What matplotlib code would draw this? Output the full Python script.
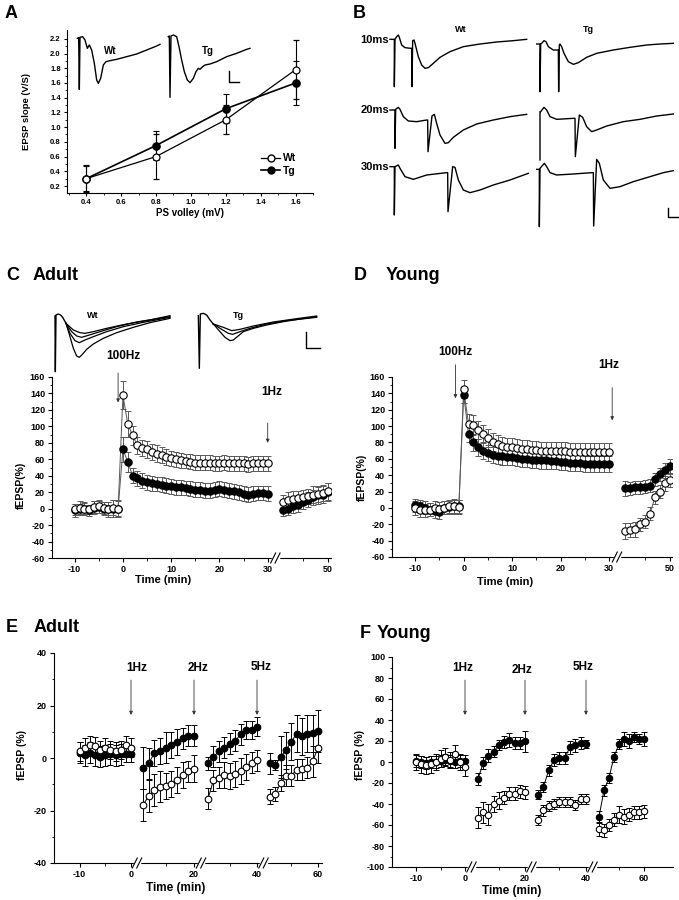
import numpy as np
import matplotlib as mpl
mpl.use('Agg')
import matplotlib.pyplot as plt
from matplotlib.lines import Line2D
from matplotlib.ticker import FixedLocator, FixedFormatter

plt.rcParams['font.family'] = ['Liberation Sans', 'DejaVu Sans']
plt.rcParams['font.weight'] = 'bold'
plt.rcParams['axes.unicode_minus'] = False
plt.rcParams['axes.linewidth'] = 0.8

# ---------------- data ----------------
# A: input/output
a_volley = [0.4, 0.8, 1.2, 1.6]
a_wt = [0.30, 0.60, 1.10, 1.78]
a_wt_err = [0.18, 0.30, 0.20, 0.40]
a_tg = [0.30, 0.75, 1.25, 1.60]
a_tg_err = [0.17, 0.20, 0.20, 0.30]

# C: adult LTP / depotentiation
base_t = [-10, -9, -8, -7, -6, -5, -4, -3, -2, -1]
post_t = list(range(0, 31))
late_t = [32, 34, 36, 38, 40, 42, 44, 46, 48, 50]

c_wt_base = [-1, 1, 0, -1, 2, 3, 1, 0, 1, 0]
c_wt_base_err = [7, 8, 7, 6, 7, 8, 7, 8, 9, 9]
c_tg_base = [-2, -1, 0, -2, 1, 2, 0, -1, 0, 0]
c_tg_base_err = [8, 7, 8, 7, 8, 7, 8, 9, 10, 10]
c_wt_post = [138, 103, 89, 77, 74, 72, 69, 67, 65, 63, 61, 60, 59, 58, 57, 56, 56, 56,
             56, 55, 55, 56, 55, 55, 55, 55, 54, 55, 55, 55, 55]
c_wt_post_err = [17, 16, 12, 10, 10, 10, 10, 10, 10, 10, 9, 9, 9, 9, 9, 9, 9, 9,
                 9, 9, 9, 9, 9, 9, 9, 9, 9, 9, 9, 9, 9]
c_tg_post = [72, 57, 40, 37, 34, 32, 31, 30, 29, 28, 27, 26, 26, 25, 24, 23, 23, 22,
             22, 23, 24, 23, 22, 21, 20, 18, 17, 18, 19, 19, 18]
c_tg_post_err = [15, 12, 9, 9, 9, 9, 9, 9, 9, 9, 9, 9, 9, 9, 9, 9, 9, 9,
                 9, 9, 9, 9, 9, 9, 9, 9, 9, 9, 9, 9, 9]
c_wt_late = [8, 11, 12, 13, 14, 15, 17, 18, 19, 21]
c_wt_late_err = [8, 9, 9, 9, 9, 9, 10, 10, 10, 10]
c_tg_late = [-2, 0, 3, 5, 8, 11, 14, 16, 17, 20]
c_tg_late_err = [7, 8, 8, 9, 9, 9, 9, 10, 10, 11]

# D: young LTP / depotentiation
d_wt_base = [0, -2, -3, -2, 0, -1, 0, 2, 2, 1]
d_wt_base_err = [9, 9, 8, 8, 8, 8, 8, 8, 9, 9]
d_tg_base = [3, 2, 0, -2, -4, -5, 0, 1, 2, 2]
d_tg_base_err = [8, 8, 8, 8, 8, 8, 8, 8, 8, 8]
d_wt_post = [145, 103, 101, 95, 90, 85, 80, 78, 76, 75, 74, 73, 72, 72, 71, 71, 70, 70,
             70, 69, 69, 69, 68, 68, 68, 68, 68, 68, 68, 68, 68]
d_wt_post_err = [11, 12, 12, 11, 11, 11, 11, 11, 11, 11, 11, 11, 11, 11, 11, 11, 11, 11,
                 11, 11, 11, 11, 11, 11, 11, 11, 11, 11, 11, 11, 11]
d_tg_post = [138, 90, 80, 74, 70, 67, 65, 64, 63, 62, 62, 61, 60, 60, 59, 59, 58, 58,
             57, 57, 56, 56, 55, 55, 55, 54, 54, 54, 54, 54, 54]
d_tg_post_err = [10, 10, 10, 10, 10, 10, 10, 10, 10, 10, 10, 10, 10, 10, 10, 10, 10, 10,
                 10, 10, 10, 10, 10, 10, 10, 10, 10, 10, 10, 10, 10]
d_wt_late = [-28, -27, -26, -20, -17, -7, 13, 20, 30, 34]
d_wt_late_err = [10, 9, 9, 8, 8, 8, 8, 8, 9, 9]
d_tg_late = [24, 24, 25, 25, 26, 27, 35, 41, 46, 51]
d_tg_late_err = [9, 8, 8, 8, 8, 8, 8, 8, 9, 9]

# E/F: low-frequency stimulation
lfs_base_t = [-10, -9, -8, -7, -6, -5, -4, -3, -2, -1, 0]
seg1_t = [2, 4, 6, 8, 10, 12, 14, 16, 18, 20]
seg2_t = [22, 24, 26, 28, 30, 32, 34, 36, 38, 40]
seg3_t = [42, 44, 46, 48, 50, 52, 54, 56, 58, 60]

e_wt_base = [2.5, 4, 5, 4.5, 3, 4, 3, 2.5, 3, 5, 4]
e_wt_base_err = [3.5, 3.5, 3.5, 3.5, 3.5, 3.5, 3.5, 3.5, 3.5, 3.5, 3.5]
e_tg_base = [2, 1, 2, 1, 0.5, 1, 1.5, 1, 1.5, 1.5, 1.5]
e_tg_base_err = [4, 4, 4, 4, 4, 4, 4, 4, 4, 3, 3]
e_tg_seg1 = [-3.7, -2, 1.8, 2.7, 4, 5, 6.2, 7.5, 8.5, 8.5]
e_tg_seg1_err = [8, 6, 5, 5, 6, 5, 5, 4, 4, 4]
e_wt_seg1 = [-17.9, -14.5, -12.2, -10.9, -10.7, -10, -8.4, -6.5, -5, -4]
e_wt_seg1_err = [6, 6, 6, 6, 5, 5, 5, 5, 4, 5]
e_tg_seg2 = [-2, 0.5, 2.5, 4, 5.5, 6.5, 9, 10.7, 10.7, 12]
e_tg_seg2_err = [2.5, 4, 4, 4, 4, 4, 4, 3.5, 3.5, 3.5]
e_wt_seg2 = [-15.5, -8.5, -7.5, -6.5, -6.8, -6.2, -5, -3.5, -1.8, -0.8]
e_wt_seg2_err = [4, 4, 4, 5, 5, 5, 5, 5, 4, 4]
e_tg_seg3 = [-2, -2.7, 0.5, 3, 6.2, 9.3, 8.2, 9.2, 9.4, 10.3]
e_tg_seg3_err = [4, 2, 8, 7, 7, 7, 7, 7, 7, 8]
e_wt_seg3 = [-14.7, -13.7, -9.5, -6.7, -6.7, -4.5, -4.2, -3.8, -1.3, 4]
e_wt_seg3_err = [3, 2.5, 3, 4, 4, 4, 4, 4, 6, 6]

f_wt_base = [0, -2, -3, -2, 0, 3, 5, 2, 8, 0, -5]
f_wt_base_err = [8, 8, 8, 8, 8, 8, 8, 8, 8, 8, 8]
f_tg_base = [1, 0, -1, 0, 0, 1, 2, 1, 0, 1, 1]
f_tg_base_err = [6, 6, 6, 6, 6, 6, 6, 6, 6, 6, 6]
f_tg_seg1 = [-16, -1, 6, 10, 16, 19, 21, 18, 18, 20]
f_tg_seg1_err = [6, 6, 6, 5, 5, 6, 7, 6, 6, 10]
f_wt_seg1 = [-53, -48, -50, -40, -37, -34, -30, -30, -28, -29]
f_wt_seg1_err = [10, 10, 10, 8, 8, 6, 6, 6, 6, 6]
f_tg_seg2 = [-31, -24, -8, 2, 4, 4, 14, 16, 18, 17]
f_tg_seg2_err = [4, 5, 5, 6, 6, 6, 6, 6, 6, 4]
f_wt_seg2 = [-55, -46, -42, -40, -38, -38, -38, -41, -35, -35]
f_wt_seg2_err = [5, 5, 5, 5, 5, 5, 5, 5, 5, 5]
f_tg_seg3 = [-52, -27, -15, 5, 17, 22, 20, 24, 22, 22]
f_tg_seg3_err = [5, 5, 5, 5, 5, 7, 7, 5, 5, 7]
f_wt_seg3 = [-64, -65, -60, -55, -50, -52, -50, -48, -48, -47]
f_wt_seg3_err = [6, 6, 6, 6, 8, 7, 6, 6, 6, 6]

# example recordings (sample, level)
a_trace_wt_x = [232, 236, 238, 240, 248, 255, 262, 268, 275, 283, 290, 295, 302, 310, 318,
                330, 350, 380, 410, 440, 470, 480]
a_trace_wt_y = [115, 113, 268, 112, 110, 120, 145, 135, 150, 190, 240, 250, 235, 195, 185,
                182, 178, 170, 162, 150, 138, 133]
a_trace_tg_x = [505, 508, 510, 513, 520, 530, 537, 545, 553, 562, 570, 580, 588, 595, 600,
                608, 615, 630, 650, 680, 710, 740, 750]
a_trace_tg_y = [110, 108, 292, 108, 105, 110, 140, 180, 215, 240, 248, 235, 215, 205, 208,
                200, 195, 192, 185, 170, 160, 148, 145]
a_scale_x = [686, 686, 718]
a_scale_y = [213, 247, 247]

b_wt10_x = [150, 163, 163, 165, 170, 175, 178, 185, 195, 212, 215, 216, 218, 222, 225, 235,
            245, 255, 265, 280, 300, 330, 370, 420, 470, 520, 560]
b_wt10_y = [58, 58, 200, 58, 50, 45, 52, 75, 83, 85, 85, 200, 62, 60, 70, 110, 135, 145,
            143, 130, 112, 95, 80, 72, 66, 62, 58]
b_tg10_x = [590, 600, 600, 602, 605, 612, 618, 625, 640, 652, 655, 656, 658, 660, 665, 672,
            685, 700, 715, 740, 770, 820, 870, 920, 960, 1000]
b_tg10_y = [72, 72, 215, 72, 70, 62, 65, 80, 90, 90, 90, 215, 75, 72, 80, 100, 125, 133,
            128, 112, 100, 90, 82, 75, 72, 70]
b_wt20_x = [150, 165, 165, 167, 175, 180, 190, 205, 230, 260, 263, 264, 276, 283, 290, 300,
            315, 325, 340, 370, 410, 460, 510, 560]
b_wt20_y = [270, 270, 385, 268, 262, 268, 290, 303, 305, 300, 300, 395, 288, 283, 310, 345,
            370, 368, 352, 330, 312, 300, 290, 283]
b_tg20_x = [600, 600, 602, 612, 620, 630, 650, 700, 705, 706, 718, 728, 740, 755, 770, 800,
            850, 900, 950, 1000]
b_tg20_y = [420, 275, 275, 262, 270, 290, 298, 295, 295, 410, 285, 292, 320, 335, 330, 318,
            305, 298, 288, 282]
b_wt30_x = [150, 163, 163, 165, 175, 180, 195, 220, 260, 320, 323, 324, 338, 345, 355, 370,
            390, 420, 460, 510, 565]
b_wt30_y = [440, 440, 585, 440, 435, 445, 470, 478, 465, 458, 458, 575, 440, 442, 480, 510,
            518, 510, 495, 480, 460]
b_tg30_x = [590, 598, 598, 600, 613, 620, 630, 650, 700, 755, 760, 761, 770, 778, 790, 810,
            840, 880, 930, 970, 1000]
b_tg30_y = [448, 448, 620, 445, 430, 440, 458, 465, 462, 458, 458, 618, 418, 430, 480, 505,
            500, 485, 470, 458, 452]
b_scale_x = [985, 985, 1015]
b_scale_y = [565, 592, 592]

c_start_wt_x = [45, 46, 48, 55, 62, 68, 78]
c_start_wt_y = [48, 215, 45, 42, 45, 52, 70]
c_traces_wt = [
    ([78, 90, 100, 110, 118, 128, 140, 160, 190, 230, 280, 330, 390],
     [70, 110, 145, 168, 172, 162, 148, 132, 115, 98, 82, 68, 55]),
    ([78, 90, 105, 118, 135, 160, 200, 250, 310, 390],
     [70, 100, 122, 128, 120, 110, 95, 80, 67, 52]),
    ([78, 95, 110, 125, 145, 180, 230, 290, 390],
     [70, 95, 108, 112, 106, 95, 80, 66, 50]),
    ([78, 100, 120, 135, 160, 200, 260, 330, 390],
     [70, 90, 98, 100, 95, 85, 72, 60, 47]),
]
c_start_tg_x = [475, 478, 481, 490, 500, 510, 520]
c_start_tg_y = [47, 205, 42, 40, 45, 60, 72]
c_traces_tg = [
    ([520, 540, 555, 570, 580, 592, 610, 640, 680, 730, 780, 830],
     [72, 95, 112, 122, 120, 110, 95, 85, 75, 65, 57, 50]),
    ([520, 545, 565, 578, 600, 630, 680, 740, 830],
     [72, 88, 100, 103, 95, 85, 72, 62, 52]),
    ([520, 550, 575, 600, 640, 700, 770, 830],
     [72, 82, 92, 88, 78, 66, 56, 48]),
]
c_scale_x = [797, 797, 840]
c_scale_y = [95, 145, 145]

# ---------------- figure ----------------
W, H = 679, 900
fig = plt.figure(figsize=(W / 100, H / 100), dpi=100)


def box(l, t, r, b):
    return [l / W, 1 - b / H, (r - l) / W, (b - t) / H]


def ftext(x, y, s, **kw):
    fig.text(x / W, 1 - y / H, s, **kw)


def series(ax, t, y, e, filled, ecol, lcol, ms):
    ax.errorbar(t, y, yerr=e, fmt='none', ecolor=ecol, elinewidth=0.7,
                capsize=2.2, capthick=0.7, zorder=2)
    ax.plot(t, y, color=lcol, lw=0.7, zorder=3)
    ax.plot(t, y, 'o', ms=ms, mfc='k' if filled else 'w', mec='k', mew=0.8,
            zorder=4 if filled else 5)


def time_panel(rect, kt, kp, ylim, yt, ym, xt, xm, brks):
    l, t, r, b = rect
    ax = fig.add_axes(box(l, t, r, b))
    ax.set_xscale('function', functions=(lambda x: np.interp(x, kt, kp),
                                         lambda p: np.interp(p, kp, kt)))
    ax.set_xlim(kt[0], kt[-1])
    ax.set_ylim(*ylim)
    ax.spines['top'].set_visible(False)
    ax.spines['right'].set_visible(False)
    ax.xaxis.set_major_locator(FixedLocator(xt))
    ax.xaxis.set_major_formatter(FixedFormatter([str(v) for v in xt]))
    ax.xaxis.set_minor_locator(FixedLocator(xm))
    ax.yaxis.set_major_locator(FixedLocator(yt))
    ax.yaxis.set_minor_locator(FixedLocator(ym))
    ax.tick_params(which='major', length=3, width=0.8, labelsize=6.5, pad=2)
    ax.tick_params(which='minor', length=1.8, width=0.6)
    wpx, hpx = r - l, b - t
    for xb in brks:
        fx = (np.interp(xb, kt, kp) - kp[0]) / (kp[-1] - kp[0])
        g, dx, dy = 2.2 / wpx, 2.5 / wpx, 5 / hpx
        ax.plot([fx - g, fx + g], [0, 0], color='w', lw=2.5, transform=ax.transAxes,
                clip_on=False, zorder=6)
        for o in (-g, g):
            ax.plot([fx + o - dx, fx + o + dx], [-dy, dy], color='k', lw=0.8,
                    transform=ax.transAxes, clip_on=False, zorder=7)
    return ax


def arrow(ax, x, y0, y1, label, lx, ly, col='0.2'):
    ax.annotate('', xy=(x, y1), xytext=(x, y0),
                arrowprops=dict(arrowstyle='-|>', lw=0.6, color=col, mutation_scale=5,
                                shrinkA=0, shrinkB=0), annotation_clip=False)
    ax.text(lx, ly, label, ha='center', va='center', fontsize=8.5, clip_on=False)


def overlay(l, t, r, b, xlim, ylim):
    ax = fig.add_axes(box(l, t, r, b))
    ax.set_xlim(*xlim)
    ax.set_ylim(*ylim)
    ax.axis('off')
    ax.patch.set_alpha(0)
    return ax


# ---- A ----
axA = fig.add_axes(box(67, 30, 313, 193))
axA.set_xlim(0.29, 1.70)
axA.set_ylim(0.105, 2.32)
axA.spines['top'].set_visible(False)
axA.spines['right'].set_visible(False)
axA.errorbar(a_volley, a_wt, yerr=a_wt_err, fmt='-o', color='k', lw=0.9, ms=5,
             mfc='w', mec='k', mew=0.9, capsize=2.5, capthick=0.8, elinewidth=0.8, zorder=4)
axA.errorbar(a_volley, a_tg, yerr=a_tg_err, fmt='-o', color='k', lw=1.2, ms=5.2,
             mfc='k', mec='k', capsize=2.5, capthick=0.8, elinewidth=0.8, zorder=3)
axA.set_xticks([0.4, 0.6, 0.8, 1.0, 1.2, 1.4, 1.6])
axA.set_xticks([0.3, 0.5, 0.7, 0.9, 1.1, 1.3, 1.5, 1.7], minor=True)
axA.set_yticks([0.2, 0.4, 0.6, 0.8, 1.0, 1.2, 1.4, 1.6, 1.8, 2.0, 2.2])
axA.set_yticks([0.3, 0.5, 0.7, 0.9, 1.1, 1.3, 1.5, 1.7, 1.9, 2.1], minor=True)
axA.xaxis.set_major_formatter(FixedFormatter(['0.4', '0.6', '0.8', '1.0', '1.2', '1.4', '1.6']))
axA.yaxis.set_major_formatter(FixedFormatter(['0.2', '0.4', '0.6', '0.8', '1.0', '1.2', '1.4',
                                              '1.6', '1.8', '2.0', '2.2']))
axA.tick_params(which='major', length=2.5, width=0.8, labelsize=5.5, pad=2)
axA.tick_params(which='minor', length=1.5, width=0.6)
hA = [Line2D([], [], color='k', lw=0.9, marker='o', ms=5, mfc='w', mec='k'),
      Line2D([], [], color='k', lw=1.2, marker='o', ms=5, mfc='k', mec='k')]
axA.legend(hA, ['Wt', 'Tg'], loc='center left', bbox_to_anchor=(0.79, 0.175),
           frameon=False, fontsize=7.5, handlelength=1.8, handletextpad=0.3,
           labelspacing=0.25, borderpad=0, borderaxespad=0)
ftext(27, 112, 'EPSP slope (V/S)', rotation=90, ha='center', va='center', fontsize=6.8)
ftext(190, 213, 'PS volley (mV)', ha='center', va='center', fontsize=7)

ovA = overlay(0, 0, 340, 310, (0, 1020), (930, 0))
ovA.plot(a_trace_wt_x, a_trace_wt_y, color='k', lw=1.0)
ovA.plot(a_trace_tg_x, a_trace_tg_y, color='k', lw=1.0)
ovA.plot(a_scale_x, a_scale_y, color='k', lw=1.0)
ftext(110, 51, 'Wt', ha='center', va='center', fontsize=7)
ftext(208, 51, 'Tg', ha='center', va='center', fontsize=7)
ftext(5, 14, 'A', ha='left', va='center', fontsize=13)

# ---- B ----
ovB = overlay(340, 20, 679, 250, (0, 1017), (690, 0))
for bx, by in [(b_wt10_x, b_wt10_y), (b_tg10_x, b_tg10_y), (b_wt20_x, b_wt20_y),
               (b_tg20_x, b_tg20_y), (b_wt30_x, b_wt30_y), (b_tg30_x, b_tg30_y),
               (b_scale_x, b_scale_y)]:
    ovB.plot(bx, by, color='k', lw=1.0)
ftext(353, 13, 'B', ha='left', va='center', fontsize=13)
ftext(461, 30, 'Wt', ha='center', va='center', fontsize=6.5)
ftext(588, 30, 'Tg', ha='center', va='center', fontsize=6.5)
for lab, yy in [('10ms', 40), ('20ms', 110), ('30ms', 167)]:
    ftext(389, yy, lab, ha='right', va='center', fontsize=8)

# ---- C ----
axC = time_panel((52, 377, 331, 558), [-14.7, 30, 32, 50, 51.2],
                 [52, 267.7, 283, 328, 331], (-60, 160),
                 list(range(-60, 161, 20)), list(range(-50, 160, 20)),
                 [-10, 0, 10, 20, 30, 50], [-5, 5, 15, 25, 40], [31])
series(axC, base_t + post_t, c_tg_base + c_tg_post, c_tg_base_err + c_tg_post_err,
       True, '0.35', '0.35', 5.3)
series(axC, base_t + post_t, c_wt_base + c_wt_post, c_wt_base_err + c_wt_post_err,
       False, '0.35', '0.35', 5.3)
series(axC, late_t, c_tg_late, c_tg_late_err, True, '0.35', '0.35', 5.3)
series(axC, late_t, c_wt_late, c_wt_late_err, False, '0.35', '0.35', 5.3)
arrow(axC, -1, 165, 129, '100Hz', 0, 186)
arrow(axC, 30, 104, 80, '1Hz', 30.5, 142)
ftext(21, 485, 'fEPSP(%)', rotation=90, ha='center', va='center', fontsize=7.5)
ftext(163, 580, 'Time (min)', ha='center', va='center', fontsize=8)
ftext(6, 276, 'C', ha='left', va='center', fontsize=13)
ftext(33, 276, 'Adult', ha='left', va='center', fontsize=13)

ovC = overlay(40, 300, 340, 380, (0, 900), (240, 0))
ovC.plot(c_start_wt_x, c_start_wt_y, color='k', lw=1.0)
for tx, ty in c_traces_wt:
    ovC.plot(tx, ty, color='k', lw=0.9)
ovC.plot(c_start_tg_x, c_start_tg_y, color='k', lw=1.0)
for tx, ty in c_traces_tg:
    ovC.plot(tx, ty, color='k', lw=0.9)
ovC.plot(c_scale_x, c_scale_y, color='k', lw=1.0)
ftext(93, 315, 'Wt', ha='center', va='center', fontsize=6.5)
ftext(238, 315, 'Tg', ha='center', va='center', fontsize=6.5)

# ---- D ----
axD = time_panel((392, 377, 672, 557), [-14.8, 30, 32, 50, 51],
                 [392, 609, 625, 670, 672], (-60, 160),
                 list(range(-60, 161, 20)), list(range(-50, 160, 20)),
                 [-10, 0, 10, 20, 30, 50], [-5, 5, 15, 25, 40], [31])
series(axD, base_t + post_t, d_tg_base + d_tg_post, d_tg_base_err + d_tg_post_err,
       True, '0.35', '0.35', 5.3)
series(axD, base_t + post_t, d_wt_base + d_wt_post, d_wt_base_err + d_wt_post_err,
       False, '0.35', '0.35', 5.3)
series(axD, late_t, d_tg_late, d_tg_late_err, True, '0.35', '0.35', 5.3)
series(axD, late_t, d_wt_late, d_wt_late_err, False, '0.35', '0.35', 5.3)
arrow(axD, -1.7, 175, 134, '100Hz', -1.7, 191)
arrow(axD, 30.4, 147, 107, '1Hz', 30, 175)
ftext(362, 477, 'fEPSP(%)', rotation=90, ha='center', va='center', fontsize=7.5)
ftext(505, 582, 'Time (min)', ha='center', va='center', fontsize=8)
ftext(354, 276, 'D', ha='left', va='center', fontsize=13)
ftext(386, 276, 'Young', ha='left', va='center', fontsize=13)

# ---- E ----
axE = time_panel((54, 653, 322, 863), [-15, 0, 2, 20, 22, 40, 42, 60, 61.5],
                 [54, 131, 143, 194, 208, 257, 270, 318, 322], (-40, 40),
                 [-40, -20, 0, 20, 40], [-30, -10, 10, 30],
                 [-10, 0, 20, 40, 60], [-5, 10, 30, 50], [1, 21, 41])
for tt, tg, tge, wt, wte in [(lfs_base_t, e_tg_base, e_tg_base_err, e_wt_base, e_wt_base_err),
                             (seg1_t, e_tg_seg1, e_tg_seg1_err, e_wt_seg1, e_wt_seg1_err),
                             (seg2_t, e_tg_seg2, e_tg_seg2_err, e_wt_seg2, e_wt_seg2_err),
                             (seg3_t, e_tg_seg3, e_tg_seg3_err, e_wt_seg3, e_wt_seg3_err)]:
    series(axE, tt, wt, wte, False, 'k', 'k', 4.8)
    series(axE, tt, tg, tge, True, 'k', 'k', 4.8)
arrow(axE, 0, 29.7, 16.4, '1Hz', 0.9, 34.3)
arrow(axE, 20, 29.7, 16.4, '2Hz', 20.5, 34.3)
arrow(axE, 40, 29.7, 16.4, '5Hz', 40.7, 34.8)
ftext(22, 755, 'fEPSP (%)', rotation=90, ha='center', va='center', fontsize=7.5)
ftext(176, 888, 'Time (min)', ha='center', va='center', fontsize=8.5)
ftext(6, 628, 'E', ha='left', va='center', fontsize=13)
ftext(34, 628, 'Adult', ha='left', va='center', fontsize=13)

# ---- F ----
axF = time_panel((392, 657, 673, 867), [-14.9, 0, 2, 20, 22, 40, 42, 60, 71],
                 [392, 465, 478, 525, 538, 586, 599, 644, 673], (-100, 100),
                 list(range(-100, 101, 20)), list(range(-90, 100, 20)),
                 [-10, 0, 20, 40, 60], [-5, 10, 30, 50], [1, 21, 41])
for tt, tg, tge, wt, wte in [(lfs_base_t, f_tg_base, f_tg_base_err, f_wt_base, f_wt_base_err),
                             (seg1_t, f_tg_seg1, f_tg_seg1_err, f_wt_seg1, f_wt_seg1_err),
                             (seg2_t, f_tg_seg2, f_tg_seg2_err, f_wt_seg2, f_wt_seg2_err),
                             (seg3_t, f_tg_seg3, f_tg_seg3_err, f_wt_seg3, f_wt_seg3_err)]:
    series(axF, tt, wt, wte, False, 'k', 'k', 4.6)
    series(axF, tt, tg, tge, True, 'k', 'k', 4.6)
arrow(axF, 0, 78, 44.8, '1Hz', -0.4, 89.5)
arrow(axF, 20, 78, 44.8, '2Hz', 18.7, 88)
arrow(axF, 40, 78, 44.8, '5Hz', 39, 90)
ftext(360, 755, 'fEPSP (%)', rotation=90, ha='center', va='center', fontsize=7.5)
ftext(512, 891, 'Time (min)', ha='center', va='center', fontsize=8.5)
ftext(360, 633, 'F', ha='left', va='center', fontsize=13)
ftext(377, 633, 'Young', ha='left', va='center', fontsize=13)

fig.savefig('out.png', dpi=100)
